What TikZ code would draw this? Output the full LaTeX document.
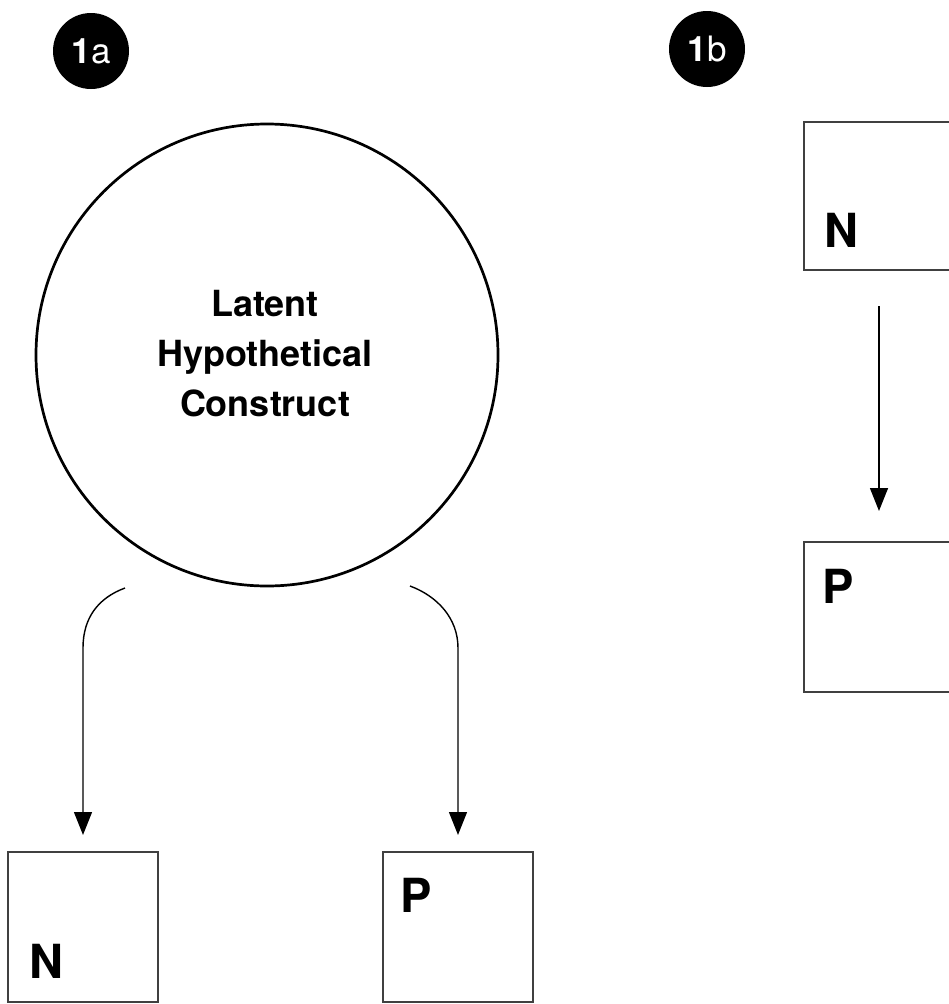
\documentclass[tikz,border=0pt]{standalone}
\usepackage{fontspec}
\setmainfont{TeX Gyre Heros}
\usetikzlibrary{arrows.meta}
\begin{document}
\begin{tikzpicture}[x=1pt,y=-1pt,
  badge/.style={circle,fill=black,minimum size=76pt,inner sep=0pt,text=white,font=\fontsize{35}{35}\selectfont},
  lhc/.style={circle,draw,line width=2.7pt,minimum size=462pt,inner sep=0pt},
  lhctext/.style={align=center,inner sep=0pt,font=\fontsize{36}{50}\selectfont\bfseries},
  var/.style={rectangle,draw=black!75,line width=2pt,minimum width=150pt,minimum height=150pt,inner sep=0pt},
  letter/.style={font=\fontsize{47}{47}\selectfont\bfseries,inner sep=0pt,anchor=base west},
  arr/.style={line width=1.4pt,-{Triangle[length=23pt,width=18pt]}}
]
\useasboundingbox (0,0) rectangle (949,1004);
\clip (0,0) rectangle (949,1004);
\fill[white] (0,0) rectangle (949,1004);
% badges
\node[badge] (b1a) at (91,51) {\textbf{1}a};
\node[badge] (b1b) at (707,49) {\textbf{1}b};
% latent construct
\node[lhc] (lhc) at (267,355) {};
\node[lhctext] (lhct) at (265,354) {Latent\\Hypothetical\\Construct};
% boxes
\node[var] (n1) at (83,927) {};
\node[var] (p1) at (458,927) {};
\node[var,minimum height=148pt] (n2) at (879,196) {};
\node[var] (p2) at (879,617) {};
% letters
\node[letter] (n1t) at (29,978) {N};
\node[letter] (p1t) at (400,912) {P};
\node[letter] (n2t) at (824,247) {N};
\node[letter] (p2t) at (822,603) {P};
% connectors
\coordinate (s1) at (125,588);
\coordinate (s2) at (410,586);
\draw[arr] (s1) .. controls (98,598) and (83,618) .. (83,648) -- ([yshift=16pt]n1.north);
\draw[arr] (s2) .. controls (437,596) and (458,618) .. (458,648) -- ([yshift=16pt]p1.north);
\draw[arr] ([yshift=-35pt]n2.south) -- ([yshift=30pt]p2.north);
\end{tikzpicture}
\end{document}
